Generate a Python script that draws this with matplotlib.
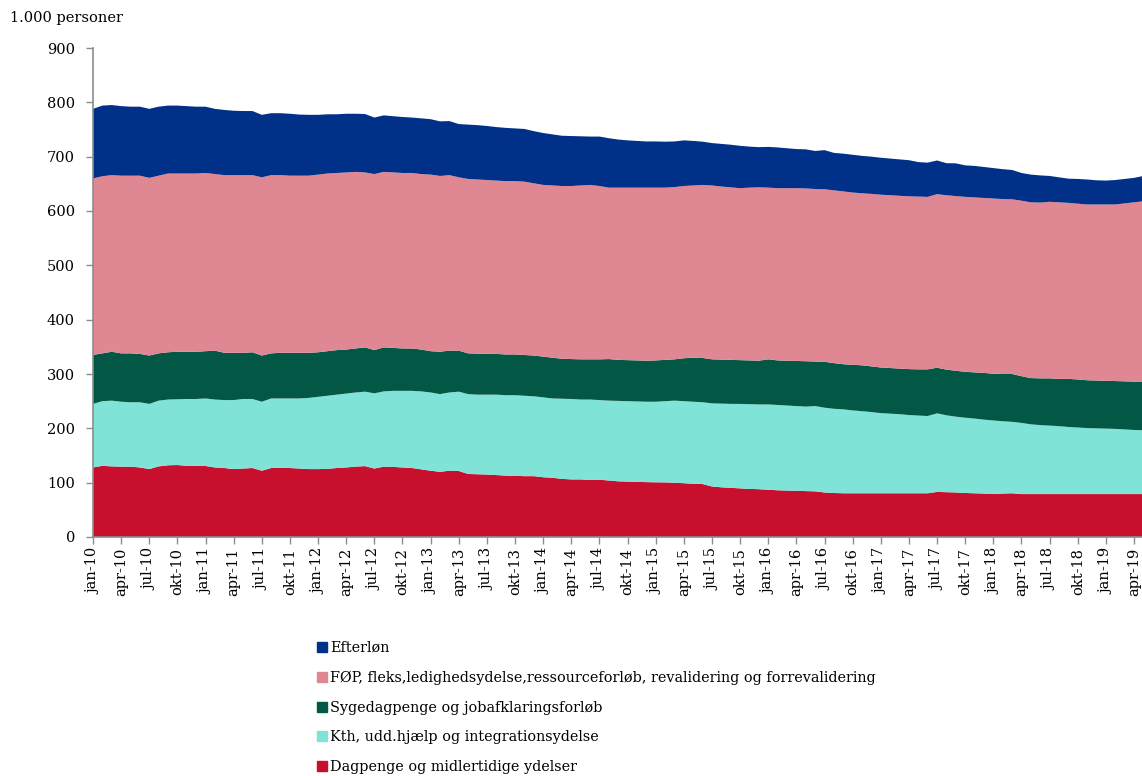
import matplotlib
matplotlib.use("Agg")
import matplotlib.pyplot as plt
from matplotlib.lines import Line2D
import numpy as np

plt.rcParams['font.family'] = ['DejaVu Serif']

# Monthly, jan-10 ... maj-19 (1.000 personer)
dagpenge = [128, 131, 130, 129.5, 129.5, 128, 125, 130, 132, 132.5, 131, 131,
            130.7, 128, 127, 125, 126, 127, 122, 127, 127.5, 127, 126, 125,
            125, 125.5, 127, 128, 129.5, 130.5, 126, 129.5, 129, 128, 127, 124.5,
            122, 120, 122, 121.5, 116, 115.5, 115, 114, 113, 112.5, 112, 112,
            110, 109, 107, 106, 106, 105, 105.5, 104, 102.5, 102, 101.5, 101,
            100.7, 100.5, 100, 99, 98, 97.5, 93, 91.5, 90.5, 89.5, 88.5, 88,
            87, 86, 85.5, 85, 84.5, 84, 82, 81, 80.5, 80.5, 80.5, 80.5,
            80.5, 80.5, 80.5, 80.5, 80.5, 80.5, 83, 82.5, 82, 81, 80.5, 80,
            79, 80, 80.5, 79, 79, 79, 79, 79, 79, 79, 79, 79,
            79, 79, 79, 79, 79]

kth = [117, 119, 121, 119.5, 118.5, 120, 120, 121, 121, 121, 123, 123,
       124.3, 125, 125, 127, 128, 127, 127, 128, 127.5, 128, 129, 131,
       133, 134.5, 135, 136, 136.5, 137, 138.5, 138.5, 140, 141, 142, 143.5,
       144, 143, 144, 146, 147, 146.5, 147, 148, 148, 148.5, 148, 147,
       147, 146, 147.5, 148, 147, 148, 146.5, 147, 148, 148, 148, 148,
       148.3, 149.5, 151, 151, 151, 150.5, 153, 154, 154.5, 155.5, 156, 156,
       157, 157, 156.5, 156, 155.5, 157, 156, 155, 154.5, 152.5, 151, 149.5,
       147.5, 146.5, 145.5, 144, 143, 142.2, 144.6, 141.5, 139.5, 138.6, 137.5, 136,
       135.5, 133, 131.5, 131, 128.4, 127, 126, 125, 123.5, 122.5, 121.5, 121,
       120.5, 120, 119, 118, 117.5]

syge = [90, 88, 90, 89, 90, 89, 89, 87, 87, 87.5, 87, 87,
        87, 90, 87, 87, 85, 86, 85, 83, 84, 84, 84, 83,
        82, 82, 82, 81, 81, 81.5, 79.5, 81, 79, 78, 78, 77,
        76, 78, 77, 75.5, 75, 75.5, 75, 75, 75, 75, 75, 75,
        75, 75, 73.5, 73.5, 74, 74, 75, 76.5, 75.5, 75.5, 75.5, 75.5,
        76, 76, 76, 79, 81, 81.5, 81, 81, 81, 80.5, 80.5, 80.5,
        83, 82, 82.5, 83, 83.5, 82, 84.5, 84, 83, 84, 84.5, 84,
        84, 84, 84, 84.5, 85.1, 85.9, 84, 84, 84.5, 84.4, 85, 86,
        86, 87, 88, 86, 85.1, 86, 87, 87, 88.5, 88.5, 88, 88,
        88, 88, 88.5, 89, 89.5]

foep = [325, 326, 325, 327, 327, 328, 327, 327, 329, 328, 328, 328,
        328, 325, 327, 327, 327, 326, 328, 328, 327, 326, 326, 326,
        327, 327, 326, 326, 325, 322, 324, 323, 323, 323, 323, 323,
        325, 323.5, 323, 319, 321, 320.5, 320, 319, 319, 319, 319, 317,
        316, 317, 318, 318.5, 320, 321, 319, 315.5, 317, 317.5, 318, 318.5,
        318, 317, 317, 317, 317, 318.5, 320, 318.5, 317.5, 316.5, 318, 319.1,
        316, 317, 317.5, 318, 318, 317.5, 317.5, 318, 318, 317, 316.6, 317.5,
        318, 318, 318, 318, 317.9, 317.4, 319.4, 321, 321.5, 322, 322, 322,
        322.5, 322, 321.5, 323, 323.5, 323.5, 325, 325, 324, 323.5, 323.5, 324,
        324.5, 325, 327.5, 330, 332]

efterloen = [128, 130, 129, 128, 127, 127, 127, 127, 125, 125, 124, 123,
             122, 120, 120, 118.5, 118, 118, 115, 114, 114, 114, 112.5, 112,
             110, 109, 108, 108, 107, 107.5, 104, 104, 103.5, 103, 102, 102.5,
             102, 100.5, 99.5, 98, 100, 100, 99.5, 98.5, 98, 97, 97, 96,
             95.5, 94, 92.5, 92, 90.5, 89, 91, 91, 88.5, 87, 86, 85,
             85, 84.6, 84, 84, 82, 79.6, 78, 78.5, 78.5, 78, 75.5, 73.9,
             75, 75, 73.5, 72, 72, 70, 72, 69, 69.5, 69.5, 68.9, 68.5,
             68, 67.5, 67, 66.5, 63.5, 63, 62, 59, 60.2, 58, 58, 57,
             56, 55, 54, 51, 51, 50, 47.5, 46, 44.5, 45.5, 46, 44.5,
             44, 45, 45, 45, 46.5]

series_labels = ["Dagpenge og midlertidige ydelser",
                 "Kth, udd.hjælp og integrationsydelse",
                 "Sygedagpenge og jobafklaringsforløb",
                 "FØP, fleks,ledighedsydelse,ressourceforløb, revalidering og forrevalidering",
                 "Efterløn"]
colors = ["#C8102E", "#7FE3D7", "#035745", "#E08794", "#003087"]

months = ["jan", "feb", "mar", "apr", "maj", "jun", "jul", "aug", "sep", "okt", "nov", "dec"]
n = len(dagpenge)
x = np.arange(n)
tick_pos = np.arange(0, 112, 3)
tick_labels = [f"{months[i % 12]}-{10 + i // 12:02d}" for i in tick_pos]

fig = plt.figure(figsize=(11.42, 7.76), dpi=100)
ax = fig.add_axes([93/1142, (776-537)/776, (1142-93)/1142, 489/776])

ax.stackplot(x, dagpenge, kth, syge, foep, efterloen, colors=colors, linewidth=0)

ax.set_xlim(0, 111.85)
ax.set_ylim(0, 900)
ax.set_yticks(np.arange(0, 901, 100))
ax.set_xticks(tick_pos)
ax.set_xticklabels(tick_labels, rotation=90)

for s in ["top", "right"]:
    ax.spines[s].set_visible(False)
for s in ["left", "bottom"]:
    ax.spines[s].set_color("#8c8c8c")
    ax.spines[s].set_linewidth(1.2)
    ax.spines[s].set_zorder(5)
ax.tick_params(axis="both", colors="#8c8c8c", labelcolor="black", labelsize=10.5, length=5, width=1)
ax.tick_params(axis="y", pad=8)
ax.tick_params(axis="x", pad=3)

fig.text(10/1142, 1 - 18/776, "1.000 personer", fontsize=10.5, va="center", ha="left")

handles = [Line2D([], [], marker="s", linestyle="", markersize=6.5, color=c) for c in colors]
leg = fig.legend(handles[::-1], series_labels[::-1], loc="upper left",
                 bbox_to_anchor=(318/1142, 1 - 641/776), frameon=False,
                 fontsize=10.4, handlelength=0.6, handletextpad=0.25,
                 labelspacing=1.09, borderaxespad=0, borderpad=0)

fig.savefig("out.png", dpi=100)
